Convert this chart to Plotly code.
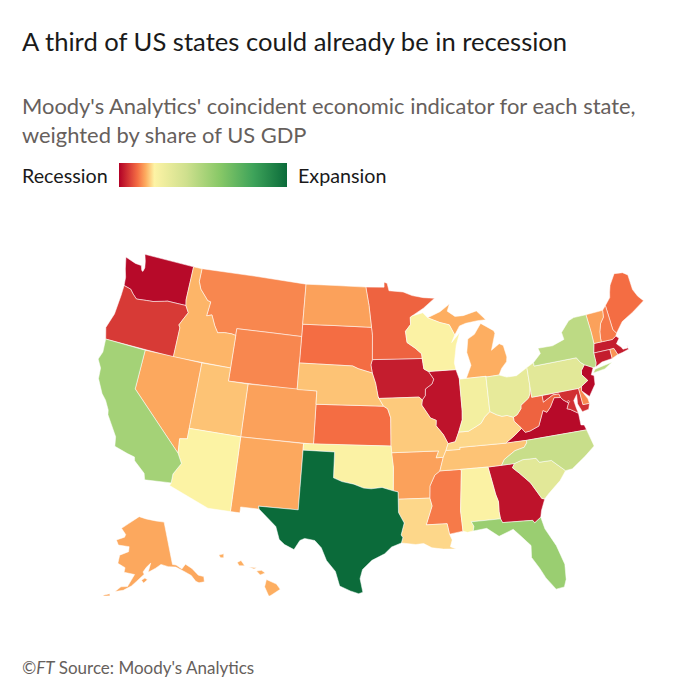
import plotly.graph_objects as go

TITLE = "A third of US states could already be in recession"
SUBTITLE = ["Moody's Analytics' coincident economic indicator for each state,", "weighted by share of US GDP"]
SOURCE = "<i>©FT</i> Source: Moody's Analytics"

# indicator, 0 = deepest recession, 100 = strongest expansion
recession_states = ["WA", "IL", "GA", "VA", "NJ", "MA", "CT", "IA", "OR", "MD", "DC"]
recession_values = [1, 2, 2, 1, 1, 3, 3, 3, 6, 5, 3]
weak_states = ["MN", "SD", "KS", "WV", "ME", "NH", "VT", "RI", "DE", "MS", "MT", "WY", "ND", "ID", "NV", "AK", "HI",
               "CO", "NM", "UT", "NE", "MI", "AR", "MO", "TN", "KY", "LA"]
weak_values = [10, 11, 11, 10, 11, 12, 15, 14, 13, 12, 13, 13, 15, 16.5, 15.5, 15.5, 16,
               15, 15.5, 17.5, 17.5, 16, 15, 18, 17.5, 19, 19]
expansion_states = ["AZ", "OK", "WI", "AL", "IN", "OH", "PA", "SC", "NC", "NY", "CA", "FL", "TX"]
expansion_values = [21.5, 22, 22, 22, 25, 30, 32, 32, 42, 45, 52, 55, 100]

scale_stops = [0, 0.06, 0.11, 0.16, 0.21, 0.4, 0.6, 0.8, 1]
scale_colors = ["#b10026", "#d73a36", "#f46d43", "#fdae61", "#fdf3a5", "#cfe08e", "#88c867", "#3ea35a", "#0b6b3a"]

# plotly's usa topojson is only on the CDN and the page runs offline, so these are
# hand-typed, approximate lon/lat state outlines (coarse, not survey data)
outlines = {
    "WA": [[(-122.76,49),(-117.03,49),(-117.04,46.42),(-116.92,45.995),(-118.98,46),(-119.3,45.93),(-120.5,45.7),(-121.2,45.65),(-122.3,45.55),(-122.8,45.85),(-123.2,46.15),(-124,46.27),(-124.1,46.9),(-124.4,47.5),(-124.73,48.38),(-123.5,48.13),(-122.8,48.1),(-122.6,47.75),(-122.45,47.7),(-122.35,48),(-122.5,48.5)]],
    "OR": [[(-124,46.27),(-123.2,46.15),(-122.8,45.85),(-122.3,45.55),(-121.2,45.65),(-120.5,45.7),(-119.3,45.93),(-118.98,46),(-116.92,45.995),(-116.5,45.5),(-116.85,45),(-117.2,44.45),(-117.03,44.25),(-117.03,42),(-124.21,42),(-124.55,42.84),(-124.1,44),(-124,45.5)]],
    "CA": [[(-124.21,42),(-120,42),(-120,39),(-114.63,35),(-114.14,34.3),(-114.72,33.4),(-114.72,32.72),(-117.12,32.53),(-117.3,33),(-118.4,33.75),(-118.5,34.03),(-119.2,34.15),(-120.5,34.45),(-120.65,35.15),(-121.9,36.6),(-122,36.95),(-122.5,37.6),(-123,38),(-123.75,39),(-123.85,39.8),(-124.35,40.4),(-124.1,41)]],
    "NV": [[(-120,42),(-114.04,42),(-114.04,36.2),(-114.75,36.1),(-114.63,35),(-120,39)]],
    "ID": [[(-117.03,49),(-116.05,49),(-116.05,48),(-115.7,47.45),(-114.7,46.7),(-114.35,46.65),(-114.5,45.55),(-113.95,45.7),(-113.45,44.95),(-113,44.45),(-112.3,44.55),(-111.5,44.55),(-111.05,44.48),(-111.05,42),(-117.03,42),(-117.03,44.25),(-117.2,44.45),(-116.85,45),(-116.5,45.5),(-116.92,45.995),(-117.04,46.42)]],
    "MT": [[(-116.05,49),(-104.05,49),(-104.05,45),(-111.05,45),(-111.05,44.48),(-111.5,44.55),(-112.3,44.55),(-113,44.45),(-113.45,44.95),(-113.95,45.7),(-114.5,45.55),(-114.35,46.65),(-114.7,46.7),(-115.7,47.45),(-116.05,48)]],
    "WY": [[(-111.05,45),(-104.05,45),(-104.05,41),(-111.05,41)]],
    "UT": [[(-114.04,42),(-111.05,42),(-111.05,41),(-109.05,41),(-109.05,37),(-114.04,37)]],
    "CO": [[(-109.05,41),(-102.05,41),(-102.05,37),(-109.05,37)]],
    "AZ": [[(-114.04,37),(-109.05,37),(-109.05,31.33),(-111.07,31.33),(-114.81,32.5),(-114.72,32.72),(-114.72,33.4),(-114.14,34.3),(-114.63,35),(-114.75,36.1),(-114.04,36.2)]],
    "NM": [[(-109.05,37),(-103,37),(-103.04,32),(-106.62,32),(-106.53,31.78),(-108.2,31.78),(-108.2,31.33),(-109.05,31.33)]],
    "ND": [[(-104.05,49),(-97.23,49),(-96.85,47.6),(-96.56,45.94),(-104.05,45.94)]],
    "SD": [[(-104.05,45.94),(-96.56,45.94),(-96.45,45.3),(-96.45,43.5),(-96.6,43.1),(-96.45,42.49),(-97.9,42.8),(-98.5,43),(-104.05,43)]],
    "NE": [[(-104.05,43),(-98.5,43),(-97.9,42.8),(-96.45,42.49),(-96.1,41.7),(-95.85,40.7),(-95.31,40),(-102.05,40),(-102.05,41),(-104.05,41)]],
    "KS": [[(-102.05,40),(-95.31,40),(-94.9,39.8),(-94.61,39.11),(-94.62,37),(-102.05,37)]],
    "OK": [[(-103,37),(-94.62,37),(-94.43,35.4),(-94.48,33.64),(-95.5,33.9),(-96.5,33.8),(-97.2,33.85),(-98.1,34.13),(-99.2,34.3),(-100,34.56),(-100,36.5),(-103,36.5)]],
    "TX": [[(-103,36.5),(-100,36.5),(-100,34.56),(-99.2,34.3),(-98.1,34.13),(-97.2,33.85),(-96.5,33.8),(-95.5,33.9),(-94.48,33.64),(-94.04,33.55),(-94.04,33),(-94.04,32),(-93.55,31.2),(-93.85,30.3),(-93.7,30.1),(-93.84,29.7),(-94.7,29.4),(-95.3,28.9),(-96.4,28.4),(-97.2,27.7),(-97.4,27),(-97.15,25.96),(-97.5,25.85),(-98.2,26.05),(-99.1,26.4),(-99.5,27.5),(-100.3,28.3),(-100.8,29.25),(-101.4,29.77),(-102.3,29.88),(-102.7,29.7),(-103.15,28.98),(-104,29.3),(-104.5,29.65),(-104.9,30.6),(-106,31.4),(-106.53,31.78),(-106.62,32),(-103.04,32)]],
    "MN": [[(-97.23,49),(-95.15,49),(-95.15,49.38),(-94.8,49.3),(-94.6,48.72),(-93,48.6),(-92,48.3),(-90.75,48.1),(-89.5,48),(-90.8,47.3),(-92.1,46.75),(-92.3,46.65),(-92.3,46.1),(-92.88,45.6),(-92.75,44.75),(-91.9,44.3),(-91.25,43.85),(-91.22,43.5),(-96.45,43.5),(-96.45,45.3),(-96.56,45.94),(-96.85,47.6)]],
    "IA": [[(-96.45,43.5),(-91.22,43.5),(-91.1,42.7),(-90.65,42.5),(-90.15,41.9),(-90.35,41.55),(-91.05,41.2),(-91.1,40.7),(-91.42,40.38),(-91.73,40.61),(-95.77,40.58),(-95.85,40.7),(-96.1,41.7),(-96.45,42.49),(-96.6,43.1)]],
    "MO": [[(-95.77,40.58),(-91.73,40.61),(-91.42,40.38),(-91.5,40),(-90.7,39),(-90.15,38.8),(-90.2,38.4),(-89.55,37.7),(-89.15,37),(-89.4,36.5),(-89.7,36),(-90.37,36),(-90.1,36.5),(-94.62,36.5),(-94.62,37),(-94.61,39.11),(-94.9,39.8),(-95.31,40),(-95.85,40.7)]],
    "AR": [[(-94.62,36.5),(-90.1,36.5),(-90.37,36),(-89.7,36),(-90.1,35),(-90.6,34.7),(-91.1,33.9),(-91.17,33),(-94.04,33),(-94.04,33.55),(-94.48,33.64),(-94.43,35.4)]],
    "LA": [[(-94.04,33),(-91.17,33),(-91,32.4),(-91.6,31),(-89.75,31),(-89.6,30.2),(-89.4,29.75),(-89.6,29.25),(-89.1,29.05),(-90.2,29.1),(-91.2,29.25),(-91.9,29.6),(-92.6,29.55),(-93.84,29.7),(-93.7,30.1),(-93.85,30.3),(-93.55,31.2),(-94.04,32)]],
    "WI": [[(-92.88,45.6),(-92.3,46.1),(-92.3,46.65),(-92.1,46.75),(-90.9,46.95),(-90.4,46.55),(-89.1,46.13),(-88.1,45.9),(-87.6,45.1),(-88,44.55),(-87.05,45.25),(-87.55,44.3),(-87.9,43),(-87.8,42.49),(-90.65,42.5),(-91.1,42.7),(-91.22,43.5),(-91.25,43.85),(-91.9,44.3),(-92.75,44.75)]],
    "IL": [[(-90.65,42.5),(-87.8,42.49),(-87.53,41.75),(-87.53,39.35),(-87.6,38.7),(-88.05,37.8),(-88.45,37.1),(-89.15,37),(-89.55,37.7),(-90.2,38.4),(-90.15,38.8),(-90.7,39),(-91.5,40),(-91.42,40.38),(-91.1,40.7),(-91.05,41.2),(-90.35,41.55),(-90.15,41.9)]],
    "IN": [[(-87.53,41.75),(-86.82,41.76),(-84.8,41.76),(-84.82,39.1),(-85.4,38.73),(-85.8,38.3),(-86.3,38.1),(-87.1,37.8),(-88.05,37.8),(-87.6,38.7),(-87.53,39.35)]],
    "OH": [[(-84.8,41.76),(-84.8,41.7),(-83.45,41.73),(-82.7,41.5),(-81.7,41.5),(-80.52,41.98),(-80.52,40.64),(-80.65,40),(-80.85,39.7),(-81.7,39.25),(-81.75,39),(-82.2,38.6),(-82.6,38.45),(-83.2,38.65),(-83.7,38.63),(-84.2,38.8),(-84.82,39.1)]],
    "KY": [[(-89.15,37),(-88.45,37.1),(-88.05,37.8),(-87.1,37.8),(-86.3,38.1),(-85.8,38.3),(-85.4,38.73),(-84.82,39.1),(-84.2,38.8),(-83.7,38.63),(-83.2,38.65),(-82.6,38.45),(-82.6,38.15),(-81.97,37.54),(-82.7,37.1),(-83.68,36.6),(-86.5,36.65),(-88.07,36.65),(-88.07,36.5),(-89.4,36.5)]],
    "TN": [[(-89.4,36.5),(-88.07,36.5),(-88.07,36.65),(-86.5,36.65),(-83.68,36.6),(-81.68,36.59),(-81.7,36.4),(-82,36.1),(-82.9,35.95),(-84,35.4),(-84.32,34.99),(-85.6,34.98),(-88.2,35),(-90.1,35),(-89.7,36)]],
    "MS": [[(-90.1,35),(-88.2,35),(-88.1,34.9),(-88.47,31.9),(-88.4,30.35),(-89.6,30.2),(-89.75,31),(-91.6,31),(-91,32.4),(-91.17,33),(-91.1,33.9),(-90.6,34.7)]],
    "AL": [[(-88.2,35),(-85.6,34.98),(-85.18,32.87),(-85,32.3),(-85.05,31.54),(-85,31),(-87.6,31),(-87.4,30.65),(-87.5,30.3),(-88,30.23),(-88.4,30.35),(-88.47,31.9),(-88.1,34.9)]],
    "GA": [[(-85.6,34.98),(-84.32,34.99),(-83.11,35),(-83.35,34.7),(-82.75,34.2),(-81.9,33.4),(-81.1,32.1),(-80.85,32.03),(-81.3,31.2),(-81.45,30.72),(-82.05,30.36),(-82.2,30.57),(-84.86,30.7),(-85,31),(-85.05,31.54),(-85,32.3),(-85.18,32.87)]],
    "FL": [[(-87.6,31),(-85,31),(-84.86,30.7),(-82.2,30.57),(-82.05,30.36),(-81.45,30.72),(-81.25,29.8),(-80.5,28.4),(-80.05,26.9),(-80.15,25.75),(-80.4,25.2),(-81.1,25.13),(-81.8,26.1),(-82.2,26.9),(-82.75,27.8),(-82.65,28.7),(-83.4,29.5),(-84,30.1),(-85.3,29.7),(-86.3,30.4),(-87.5,30.3),(-87.4,30.65)]],
    "SC": [[(-83.11,35),(-82.3,35.2),(-81.05,35.15),(-80.8,34.82),(-79.67,34.8),(-78.55,33.86),(-79.2,33.2),(-80.45,32.35),(-80.85,32.03),(-81.1,32.1),(-81.9,33.4),(-82.75,34.2),(-83.35,34.7)]],
    "NC": [[(-84.32,34.99),(-84,35.4),(-82.9,35.95),(-82,36.1),(-81.7,36.4),(-81.68,36.59),(-75.87,36.55),(-75.5,35.25),(-76.5,34.65),(-77.9,33.9),(-78.55,33.86),(-79.67,34.8),(-80.8,34.82),(-81.05,35.15),(-82.3,35.2),(-83.11,35)]],
    "VA": [[(-83.68,36.6),(-81.68,36.59),(-75.87,36.55),(-76,36.95),(-76.3,37),(-76.3,37.9),(-77,38.3),(-77.3,38.4),(-77.04,38.8),(-77.5,39.1),(-77.72,39.32),(-78.35,39.4),(-78.87,38.76),(-79.3,38.42),(-79.65,38.6),(-80.3,37.5),(-81.22,37.24),(-81.68,37.2),(-81.97,37.54),(-82.7,37.1)]],
    "WV": [[(-82.6,38.15),(-82.6,38.45),(-82.2,38.6),(-81.75,39),(-81.7,39.25),(-80.85,39.7),(-80.65,40),(-80.52,40.64),(-80.52,39.72),(-79.48,39.72),(-79.48,39.2),(-78.4,39.62),(-77.83,39.6),(-77.72,39.32),(-78.35,39.4),(-78.87,38.76),(-79.3,38.42),(-79.65,38.6),(-80.3,37.5),(-81.22,37.24),(-81.68,37.2),(-81.97,37.54)]],
    "MD": [[(-79.48,39.72),(-75.79,39.72),(-75.7,38.46),(-75.05,38.45),(-75.25,38.03),(-75.9,37.95),(-76.2,38.6),(-76.1,39.3),(-76.5,38.9),(-76.4,38.3),(-76.3,37.9),(-77,38.3),(-77.3,38.4),(-77.04,38.8),(-77.5,39.1),(-77.72,39.32),(-77.83,39.6),(-78.4,39.62),(-79.48,39.2)]],
    "DE": [[(-75.79,39.72),(-75.45,39.82),(-75.55,39.5),(-75.1,38.8),(-75.05,38.45),(-75.7,38.46)]],
    "DC": [[(-77.12,38.93),(-77.04,39),(-76.91,38.89),(-77.04,38.8)]],
    "PA": [[(-80.52,41.98),(-79.76,42.27),(-79.76,42),(-75.35,42),(-75.05,41.6),(-74.7,41.36),(-75.13,40.98),(-75.2,40.68),(-74.72,40.15),(-75.45,39.82),(-75.79,39.72),(-80.52,39.72),(-80.52,40.64)]],
    "NJ": [[(-74.7,41.36),(-73.9,41),(-74.25,40.5),(-74,40.4),(-74.1,39.75),(-74.9,38.95),(-75.55,39.5),(-75.45,39.82),(-74.72,40.15),(-75.2,40.68),(-75.13,40.98)]],
    "NY": [[(-79.76,42),(-79.76,42.27),(-78.9,42.85),(-79.05,43.27),(-77.5,43.25),(-76.2,43.55),(-76.3,44.1),(-75.3,44.85),(-74.7,45),(-73.35,45),(-73.25,43.6),(-73.25,42.75),(-73.5,42.05),(-73.5,41.3),(-73.65,41),(-73.9,41),(-74.7,41.36),(-75.05,41.6),(-75.35,42)],
           [(-74,40.6),(-73.75,40.85),(-72.6,40.98),(-71.9,41.05),(-72.8,40.7)]],
    "CT": [[(-73.5,42.05),(-71.8,42.02),(-71.8,41.32),(-72.9,41.25),(-73.65,41),(-73.5,41.3)]],
    "RI": [[(-71.8,42.02),(-71.38,42.02),(-71.15,41.5),(-71.8,41.32)]],
    "MA": [[(-73.5,42.05),(-73.25,42.75),(-71.3,42.7),(-70.85,42.88),(-70.6,42.65),(-71,42.3),(-70.6,41.95),(-70.5,41.78),(-70,41.78),(-70,42.05),(-69.95,41.67),(-70.65,41.55),(-71.15,41.5),(-71.38,42.02),(-71.8,42.02)]],
    "VT": [[(-73.35,45),(-71.5,45.01),(-71.6,44.5),(-72.05,44.1),(-72.35,43.5),(-72.45,43),(-72.46,42.73),(-73.25,42.75),(-73.25,43.6)]],
    "NH": [[(-71.5,45.01),(-71.08,45.3),(-70.98,43.4),(-70.7,43.07),(-70.85,42.88),(-71.3,42.7),(-72.46,42.73),(-72.45,43),(-72.35,43.5),(-72.05,44.1),(-71.6,44.5)]],
    "ME": [[(-71.08,45.3),(-70.4,45.8),(-70.25,46.2),(-70,46.7),(-69.22,47.46),(-68.3,47.35),(-67.8,47.07),(-67.78,45.9),(-67.45,45.3),(-67,44.85),(-68.5,44.25),(-69.8,43.8),(-70.7,43.07),(-70.98,43.4)]],
    "MI": [[(-86.82,41.76),(-84.8,41.76),(-84.8,41.7),(-83.45,41.73),(-83.1,42.2),(-82.5,42.65),(-82.4,43),(-82.6,43.9),(-83,44.07),(-83.9,43.65),(-83.3,44.9),(-83.4,45.1),(-84.7,45.77),(-85.5,45),(-86.25,44.7),(-86.5,43.7),(-86.2,42.7)],
           [(-90.4,46.55),(-89.1,46.13),(-88.1,45.9),(-87.6,45.1),(-87,45.75),(-86.3,45.9),(-85,46),(-84.1,46),(-84.7,46.5),(-85,46.75),(-86.5,46.5),(-87.4,46.5),(-88.2,46.95),(-87.9,47.47),(-89,46.95)]],
    "AK": [[(-141,69.65),(-141,60.3),(-139.5,60),(-137.5,58.9),(-135.5,59.7),(-133.4,58.4),(-131.8,56.6),(-130,55.9),(-130.5,54.8),(-132.5,55),(-133.5,55.5),(-134.5,57),(-136.5,58.1),(-139.8,59.6),(-143,60),(-146,60.7),(-148.5,60),(-151.8,59.2),(-150.5,61.2),(-152.5,60.3),(-154,59.3),(-153.5,58.8),(-156.5,57.3),(-158.5,56.2),(-161.5,55.1),(-164.5,54.6),(-162.5,55.8),(-160,56),(-157.5,58.7),(-162,59),(-161.8,60),(-165.2,60.7),(-165,62.5),(-161,63.5),(-161,64.6),(-166.5,64.6),(-168,65.6),(-164,66.5),(-163.6,67.1),(-166.5,68.3),(-163,69.5),(-156.5,71.3),(-152,70.8),(-146,70.2)],
           [(-154.6,57.5),(-153.2,58),(-152.2,57.6),(-153.8,56.9)],
           [(-168.5,53.3),(-166.3,53.95),(-166,53.5),(-168,53.05)],
           [(-172.5,52.4),(-170,52.95),(-170,52.7),(-172.4,52.1)]],
    "HI": [[(-155.9,20.25),(-155.1,19.9),(-154.8,19.5),(-155.7,18.95),(-156.05,19.7)],
           [(-156.7,20.9),(-156.3,20.95),(-156,20.75),(-156.4,20.6)],
           [(-157.3,21.2),(-156.7,21.15),(-156.9,21.05)],
           [(-158.25,21.55),(-157.95,21.7),(-157.65,21.3),(-158.1,21.3)],
           [(-159.75,22.1),(-159.35,22.2),(-159.35,21.9),(-159.6,21.9)]],
}

# the geo subplot asks for a base map even with every base layer hidden: hand it an empty one
EMPTY_TOPOJSON = 'data:application/json,{"type":"Topology","objects":{},"arcs":[]}#'

# the browser puts the figure 8px in from the page corner
PAGE_MARGIN = 8
FIG_SIZE = 692


def clockwise(ring):
    # d3-geo treats a counter-clockwise ring as "everything but this polygon"
    area = sum(a[0] * b[1] - b[0] * a[1] for a, b in zip(ring, ring[1:] + ring[:1]))
    ordered = ring[::-1] if area > 0 else ring
    return [list(p) for p in ordered] + [list(ordered[0])]


def state_geojson():
    features = []
    for code, rings in outlines.items():
        features.append({
            "type": "Feature",
            "id": code,
            "properties": {},
            "geometry": {"type": "MultiPolygon", "coordinates": [[clockwise(r)] for r in rings]},
        })
    return {"type": "FeatureCollection", "features": features}


def px_x(x):
    return (x - PAGE_MARGIN) / FIG_SIZE


def px_y(y):
    return 1 - (y - PAGE_MARGIN) / FIG_SIZE


def text_at(x, y, text, size, color, font="Lato"):
    # x and y are pixels from the top left of the page
    return dict(x=px_x(x), y=px_y(y), xref="paper", yref="paper", text=text, showarrow=False,
                xanchor="left", yanchor="middle", align="left", font=dict(family=font, size=size, color=color))


states = recession_states + weak_states + expansion_states
values = recession_values + weak_values + expansion_values

fig = go.Figure(
    go.Choropleth(
        geojson=state_geojson(),
        locations=states,
        z=values,
        locationmode="geojson-id",
        zmin=0,
        zmax=100,
        colorscale=list(zip(scale_stops, scale_colors)),
        marker_line_color="rgba(255,255,255,0.75)",
        marker_line_width=0.7,
        colorbar=dict(
            orientation="h", x=px_x(119), xanchor="left", y=px_y(163), yanchor="top",
            lenmode="pixels", len=168, thicknessmode="pixels", thickness=24,
            outlinewidth=0, borderwidth=0, xpad=0, ypad=0, ticks="", showticklabels=False,
        ),
    )
)
fig.update_geos(
    visible=False,
    projection_type="albers usa",
    projection_scale=1.045,
    bgcolor="white",
    domain=dict(x=[px_x(41), px_x(700)], y=[px_y(643), px_y(204)]),
)
fig.update_layout(
    width=FIG_SIZE,
    height=FIG_SIZE,
    margin=dict(l=0, r=0, t=0, b=0),
    paper_bgcolor="white",
    annotations=[
        text_at(20, 41, TITLE, 25.6, "#1a1a1a"),
        text_at(20, 105, SUBTITLE[0], 21.9, "#66605c"),
        text_at(20, 134, SUBTITLE[1], 21.9, "#66605c"),
        text_at(20, 175, "Recession", 19.7, "#1a1a1a"),
        text_at(296, 175, "Expansion", 19.7, "#1a1a1a"),
        text_at(20, 667, SOURCE, 17, "#66605c"),
    ],
)
fig.write_html("out.html", config={"topojsonURL": EMPTY_TOPOJSON, "displayModeBar": False})
